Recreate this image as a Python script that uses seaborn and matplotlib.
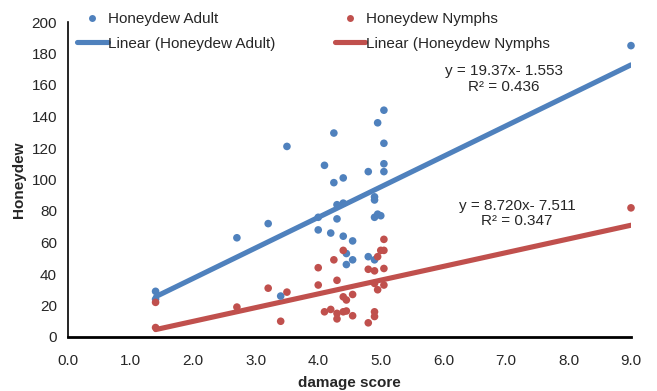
import matplotlib
matplotlib.use("Agg")
import matplotlib.pyplot as plt
import seaborn as sns
import numpy as np
import pandas as pd
from matplotlib.lines import Line2D

# ---- data ----
adult_x = [1.4, 1.4, 2.7, 3.2, 3.4, 3.5, 4.0, 4.0, 4.1, 4.2, 4.25, 4.25, 4.3, 4.3,
           4.4, 4.4, 4.4, 4.45, 4.45, 4.55, 4.55, 4.8, 4.8, 4.9, 4.9, 4.9, 4.9,
           4.95, 4.95, 5.0, 5.05, 5.05, 5.05, 5.05, 9.0]
adult_y = [29, 24, 63, 72, 26, 121, 76, 68, 109, 66, 129.5, 98, 84, 75,
           101, 85, 64, 53, 46, 61, 49, 105, 51, 89, 87, 76, 49,
           136, 78, 77, 144, 123, 110, 105, 185]

nymph_x = [1.4, 1.4, 2.7, 3.2, 3.4, 3.5, 4.0, 4.0, 4.1, 4.2, 4.3, 4.3, 4.25, 4.3,
           4.4, 4.4, 4.45, 4.55, 4.4, 4.45, 4.55, 4.8, 4.8, 4.9, 4.9, 4.95, 5.05,
           4.9, 4.9, 4.95, 5.0, 5.05, 5.05, 5.05, 9.0]
nymph_y = [22, 6, 19, 31, 10, 28.5, 44, 33, 16, 17.5, 15, 11.5, 49, 36,
           55, 25.5, 23.5, 27, 16, 16.5, 13.5, 43, 9, 42, 34, 30, 33,
           16, 13, 51, 55, 55, 62, 43.5, 82]

# displayed trendline coefficients (slope, intercept, R²)
adult_fit = [19.37, -1.553, 0.436]
nymph_fit = [8.720, -7.511, 0.347]
fit_range = [1.4, 9.0]

series_names = ["Honeydew Adult", "Honeydew Nymphs"]
trend_names = ["Linear (Honeydew Adult)", "Linear (Honeydew Nymphs"]
x_ticks = [0.0, 1.0, 2.0, 3.0, 4.0, 5.0, 6.0, 7.0, 8.0, 9.0]
y_ticks = [0, 20, 40, 60, 80, 100, 120, 140, 160, 180, 200]

BLUE = "#4F81BD"
RED = "#C0504D"

sns.set_style("white")
plt.rcParams["font.family"] = ["Liberation Sans", "DejaVu Sans"]
FS = 11

W, H = 657, 391
fig = plt.figure(figsize=(W / 100, H / 100), dpi=100)
ax = fig.add_axes([68 / W, 1 - 337 / H, (631 - 68) / W, (337 - 22) / H])

df_a = pd.DataFrame({"x": adult_x, "y": adult_y})
df_n = pd.DataFrame({"x": nymph_x, "y": nymph_y})

xs = np.array(fit_range)
df_fa = pd.DataFrame({"x": xs, "y": adult_fit[0] * xs + adult_fit[1]})
df_fn = pd.DataFrame({"x": xs, "y": nymph_fit[0] * xs + nymph_fit[1]})

sns.lineplot(data=df_fa, x="x", y="y", ax=ax, color=BLUE, lw=3.7,
             solid_capstyle="round", zorder=2, legend=False)
sns.lineplot(data=df_fn, x="x", y="y", ax=ax, color=RED, lw=3.7,
             solid_capstyle="round", zorder=2, legend=False)
sns.scatterplot(data=df_a, x="x", y="y", ax=ax, color=BLUE, s=30,
                edgecolor="none", zorder=3, legend=False, clip_on=False)
sns.scatterplot(data=df_n, x="x", y="y", ax=ax, color=RED, s=30,
                edgecolor="none", zorder=3, legend=False, clip_on=False)

ax.set_xlim(0, 9)
ax.set_ylim(0, 200)
ax.set_xticks(x_ticks)
ax.set_xticklabels([f"{v:.1f}" for v in x_ticks], fontsize=FS)
ax.set_yticks(y_ticks)
ax.set_yticklabels([str(v) for v in y_ticks], fontsize=FS)
ax.tick_params(length=0)
ax.tick_params(axis="y", pad=8)
ax.tick_params(axis="x", pad=12)
ax.set_xlabel("damage score", fontsize=FS, fontweight="bold", labelpad=6)
ax.set_ylabel("Honeydew", fontsize=FS, fontweight="bold", labelpad=4)
for s in ["top", "right"]:
    ax.spines[s].set_visible(False)
ax.spines["left"].set_color("black")
ax.spines["left"].set_linewidth(1.2)
ax.spines["bottom"].set_color("black")
ax.spines["bottom"].set_linewidth(2.0)
ax.grid(False)

# equation labels
fig.text(504 / W, 1 - 79 / H,
         f"y = {adult_fit[0]:.2f}x- {abs(adult_fit[1]):.3f}\nR² = {adult_fit[2]:.3f}",
         ha="center", va="center", multialignment="center", fontsize=FS, linespacing=1.1)
fig.text(517 / W, 1 - 213.5 / H,
         f"y = {nymph_fit[0]:.3f}x- {abs(nymph_fit[1]):.3f}\nR² = {nymph_fit[2]:.3f}",
         ha="center", va="center", multialignment="center", fontsize=FS, linespacing=1.1)

handles = [
    Line2D([], [], ls="none", marker="o", ms=5, color=BLUE, mec="none"),
    Line2D([], [], color=BLUE, lw=3.7, solid_capstyle="round"),
    Line2D([], [], ls="none", marker="o", ms=5, color=RED, mec="none"),
    Line2D([], [], color=RED, lw=3.7, solid_capstyle="round"),
]
labels = [series_names[0], trend_names[0], series_names[1], trend_names[1]]
fig.legend(handles, labels, ncol=2, loc="upper left",
           bbox_to_anchor=(77 / W, 1 - 12 / H), frameon=False, fontsize=FS,
           handlelength=2.0, handletextpad=0.05, labelspacing=0.7,
           columnspacing=3.85, borderaxespad=0, borderpad=0)

fig.savefig("out.png", dpi=100)
